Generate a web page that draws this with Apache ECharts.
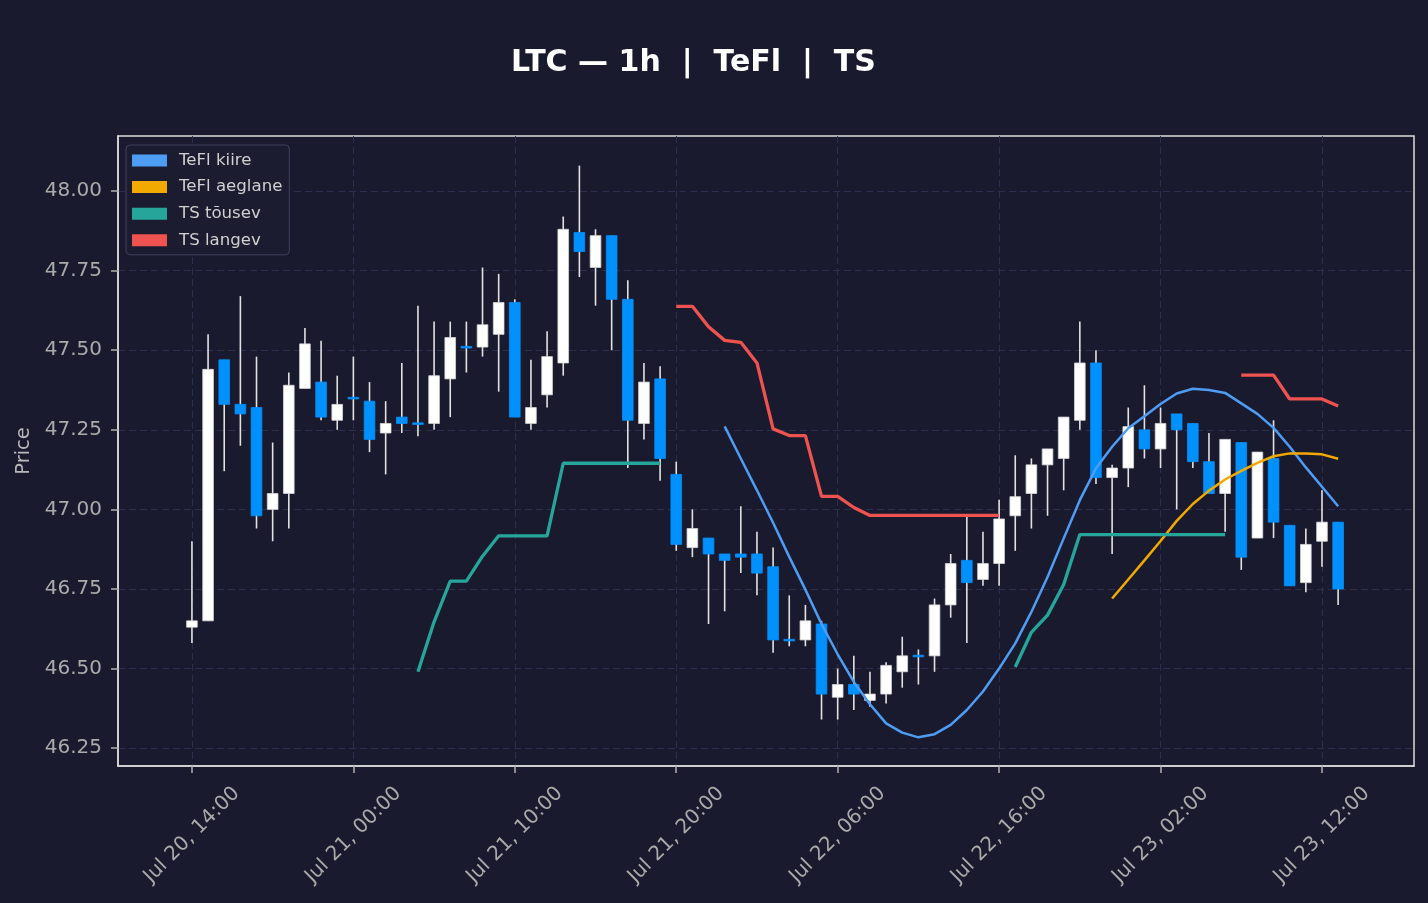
<!DOCTYPE html>
<html>
<head>
<meta charset="utf-8">
<title>LTC 1h TeFl TS</title>
<script src="https://cdn.jsdelivr.net/npm/echarts@6/dist/echarts.min.js"></script>
<style>
  html, body { margin: 0; padding: 0; background: #1a1a2e; }
  #chart { width: 1428px; height: 903px; }
</style>
</head>
<body>
<div id="chart"></div>
<script>
  // hourly candles, x = hours since Jul 20 14:00
  var opens  = [46.63, 46.65, 47.47, 47.33, 47.32, 47.00, 47.05, 47.38, 47.40, 47.28,
                47.352, 47.34, 47.24, 47.29, 47.272, 47.27, 47.41, 47.512, 47.51, 47.55,
                47.65, 47.27, 47.36, 47.46, 47.87, 47.76, 47.86, 47.66, 47.27, 47.41,
                47.11, 46.88, 46.91, 46.86, 46.86, 46.86, 46.82, 46.592, 46.59, 46.64,
                46.41, 46.45, 46.40, 46.42, 46.49, 46.542, 46.54, 46.70, 46.84, 46.78,
                46.83, 46.98, 47.05, 47.14, 47.16, 47.28, 47.46, 47.10, 47.13, 47.25,
                47.19, 47.30, 47.27, 47.15, 47.05, 47.21, 46.91, 47.16, 46.95, 46.77,
                46.90, 46.96]
  var highs  = [46.90, 47.55, 47.47, 47.67, 47.48, 47.21, 47.43, 47.57, 47.53, 47.42,
                47.48, 47.40, 47.34, 47.46, 47.64, 47.59, 47.59, 47.59, 47.76, 47.74,
                47.66, 47.47, 47.56, 47.92, 48.08, 47.88, 47.86, 47.72, 47.46, 47.45,
                47.15, 47.00, 46.91, 46.86, 47.01, 46.93, 46.88, 46.73, 46.70, 46.65,
                46.50, 46.54, 46.49, 46.52, 46.60, 46.56, 46.72, 46.86, 46.98, 46.93,
                47.03, 47.17, 47.16, 47.19, 47.29, 47.59, 47.50, 47.14, 47.32, 47.39,
                47.32, 47.30, 47.27, 47.24, 47.22, 47.21, 47.18, 47.28, 46.95, 46.94,
                47.06, 46.96]
  var lows   = [46.58, 46.65, 47.12, 47.20, 46.94, 46.90, 46.94, 47.38, 47.28, 47.25,
                47.28, 47.18, 47.11, 47.24, 47.23, 47.25, 47.29, 47.43, 47.48, 47.37,
                47.29, 47.25, 47.32, 47.42, 47.73, 47.64, 47.50, 47.13, 47.22, 47.09,
                46.87, 46.85, 46.64, 46.68, 46.80, 46.73, 46.55, 46.57, 46.57, 46.34,
                46.34, 46.37, 46.38, 46.39, 46.44, 46.45, 46.49, 46.66, 46.58, 46.76,
                46.76, 46.87, 46.94, 46.98, 47.06, 47.25, 47.08, 46.86, 47.07, 47.16,
                47.13, 47.00, 47.13, 47.05, 46.93, 46.81, 46.91, 46.91, 46.76, 46.74,
                46.82, 46.70]
  var closes = [46.65, 47.44, 47.33, 47.30, 46.98, 47.05, 47.39, 47.52, 47.29, 47.33,
                47.348, 47.22, 47.27, 47.27, 47.268, 47.42, 47.54, 47.508, 47.58, 47.65,
                47.29, 47.32, 47.48, 47.88, 47.81, 47.86, 47.66, 47.28, 47.40, 47.16,
                46.89, 46.94, 46.86, 46.84, 46.85, 46.80, 46.59, 46.588, 46.65, 46.42,
                46.45, 46.42, 46.42, 46.51, 46.54, 46.538, 46.70, 46.83, 46.77, 46.83,
                46.97, 47.04, 47.14, 47.19, 47.29, 47.46, 47.10, 47.13, 47.26, 47.19,
                47.27, 47.25, 47.15, 47.05, 47.22, 46.85, 47.18, 46.96, 46.76, 46.89,
                46.96, 46.75]

  function gap(n) { return new Array(n).fill(null) }

  // indicator lines (null = not drawn)
  var teflFast = gap(33).concat([47.261, 47.16, 47.06, 46.958, 46.851, 46.748, 46.640, 46.545,
                46.458, 46.388, 46.328, 46.299, 46.284, 46.294, 46.323, 46.370, 46.428,
                46.500, 46.579, 46.678, 46.788, 46.909, 47.029, 47.129, 47.197, 47.255,
                47.293, 47.331, 47.364, 47.379, 47.375, 47.366, 47.333, 47.300, 47.256,
                47.197, 47.132, 47.071, 47.010])
  var teflSlow = gap(57).concat([46.720, 46.780, 46.840, 46.901, 46.964, 47.017, 47.059, 47.094,
                47.121, 47.146, 47.167, 47.176, 47.176, 47.173, 47.159])
  var tsUp = gap(14).concat([46.49, 46.647, 46.775, 46.775, 46.853, 46.917, 46.917, 46.917,
                46.917, 47.145, 47.145, 47.145, 47.145, 47.145, 47.145, 47.145],
                gap(21), [46.505, 46.614, 46.668, 46.764, 46.921, 46.921, 46.921, 46.921,
                46.921, 46.921, 46.921, 46.921, 46.921, 46.921], gap(7))
  var tsDown = gap(30).concat([47.638, 47.638, 47.574, 47.531, 47.525, 47.46, 47.253, 47.232,
                47.232, 47.041, 47.041, 47.006, 46.981, 46.981, 46.981, 46.981, 46.981,
                46.981, 46.981, 46.981, 46.981], gap(14),
                [47.422, 47.422, 47.422, 47.347, 47.347, 47.347, 47.325])

  var xTickHours = [0, 10, 20, 30, 40, 50, 60, 70]
  var xTickLabels = ['Jul 20, 14:00', 'Jul 21, 00:00', 'Jul 21, 10:00', 'Jul 21, 20:00',
                     'Jul 22, 06:00', 'Jul 22, 16:00', 'Jul 23, 02:00', 'Jul 23, 12:00']
  var yTicks = [46.25, 46.50, 46.75, 47.00, 47.25, 47.50, 47.75, 48.00]

  var upColor = '#ffffff'
  var downColor = '#0091ff'
  var wickColor = '#e2e2e2'
  var gridColor = '#2d2d4d'
  var labelColor = '#aaaaaa'
  var font = 'DejaVu Sans'

  var candles = opens.map(function (o, i) {
    return [i, o, closes[i], lows[i], highs[i]]
  })

  function toXY (arr) {
    return arr.map(function (v, i) { return [i, v] })
  }

  function renderCandle (params, api) {
    var x = api.value(0)
    var o = api.value(1), c = api.value(2), l = api.value(3), h = api.value(4)
    var pH = api.coord([x, h]), pL = api.coord([x, l])
    var pO = api.coord([x, o]), pC = api.coord([x, c])
    var w = api.size([1, 0])[0] * 0.66
    var top = Math.min(pO[1], pC[1])
    var hgt = Math.max(Math.abs(pO[1] - pC[1]), 1.6)
    var up = c > o
    return {
      type: 'group',
      children: [
        {
          type: 'line',
          shape: { x1: pH[0], y1: pH[1], x2: pL[0], y2: pL[1] },
          style: { stroke: wickColor, lineWidth: 1.6 }
        },
        {
          type: 'rect',
          shape: { x: pO[0] - w / 2, y: top, width: w, height: hgt },
          style: { fill: up ? upColor : downColor, stroke: up ? '#d6d6d6' : downColor, lineWidth: 0.8 }
        }
      ]
    }
  }

  function lineSeries (name, arr, color, width) {
    return {
      name: name,
      type: 'line',
      data: toXY(arr),
      symbol: 'none',
      showSymbol: false,
      connectNulls: false,
      lineStyle: { color: color, width: width },
      itemStyle: { color: color },
      z: 4
    }
  }

  var axisLineStyle = { color: '#dcdcdc', width: 1.5 }
  var tickStyle = { color: '#b0b0b0', width: 1.5 }
  var splitStyle = { color: gridColor, type: [7, 4], width: 1 }

  var option = {
    backgroundColor: '#1a1a2e',
    animation: false,
    title: {
      text: 'LTC — 1h  |  TeFl  |  TS',
      left: 511,
      top: 48,
      padding: 0,
      textStyle: { color: '#ffffff', fontSize: 30, fontWeight: 'bold', fontFamily: font }
    },
    legend: {
      orient: 'vertical',
      left: 126,
      top: 145,
      data: [
        { name: 'TeFl kiire', icon: 'rect' },
        { name: 'TeFl aeglane', icon: 'rect' },
        { name: 'TS tõusev', icon: 'rect' },
        { name: 'TS langev', icon: 'rect' }
      ],
      itemWidth: 35,
      itemHeight: 12,
      itemGap: 9.6,
      padding: [7, 7, 6, 6],
      backgroundColor: '#1c1c31',
      borderColor: '#40405f',
      borderWidth: 1,
      borderRadius: 4,
      textStyle: { color: '#d0d0d0', fontSize: 16.6, fontFamily: font, lineHeight: 16, padding: [0, 0, 0, 7] }
    },
    grid: {
      left: 118,
      top: 136,
      width: 1296,
      height: 630,
      show: true,
      borderColor: '#dcdcdc',
      borderWidth: 1.5,
      containLabel: false,
      outerBoundsMode: 'none'
    },
    xAxis: {
      type: 'value',
      min: -4.58,
      max: 75.7,
      minInterval: 10,
      maxInterval: 10,
      axisLine: { show: true, onZero: false, lineStyle: axisLineStyle },
      axisTick: { show: true, length: 7, customValues: xTickHours, lineStyle: tickStyle },
      axisLabel: {
        customValues: xTickHours,
        formatter: function (v) { return xTickLabels[Math.round(v / 10)] },
        rotate: 45,
        align: 'center',
        verticalAlign: 'middle',
        margin: 69,
        color: labelColor,
        fontSize: 20,
        fontFamily: font
      },
      splitLine: { show: true, lineStyle: splitStyle }
    },
    yAxis: {
      type: 'value',
      min: 46.194,
      max: 48.173,
      minInterval: 0.25,
      maxInterval: 0.25,
      name: 'Price',
      nameLocation: 'middle',
      nameGap: 80,
      nameTextStyle: { color: '#b8b8b8', fontSize: 19.5, fontFamily: font },
      axisLine: { show: true, onZero: false, lineStyle: axisLineStyle },
      axisTick: { show: true, length: 7, customValues: yTicks, lineStyle: tickStyle },
      axisLabel: {
        customValues: yTicks,
        formatter: function (v) { return v.toFixed(2) },
        margin: 16,
        color: labelColor,
        fontSize: 20,
        fontFamily: font
      },
      splitLine: { show: true, lineStyle: splitStyle }
    },
    series: [
      {
        name: 'candles',
        type: 'custom',
        renderItem: renderCandle,
        data: candles,
        encode: { x: 0, y: [1, 2, 3, 4] },
        z: 2
      },
      lineSeries('TeFl kiire', teflFast, '#4d9df5', 2.5),
      lineSeries('TeFl aeglane', teflSlow, '#f2a900', 2.5),
      lineSeries('TS tõusev', tsUp, '#26a69a', 3.3),
      lineSeries('TS langev', tsDown, '#ef5350', 3.3)
    ]
  }

  var myChart = echarts.init(document.getElementById('chart'))
  myChart.setOption(option)
</script>
</body>
</html>
